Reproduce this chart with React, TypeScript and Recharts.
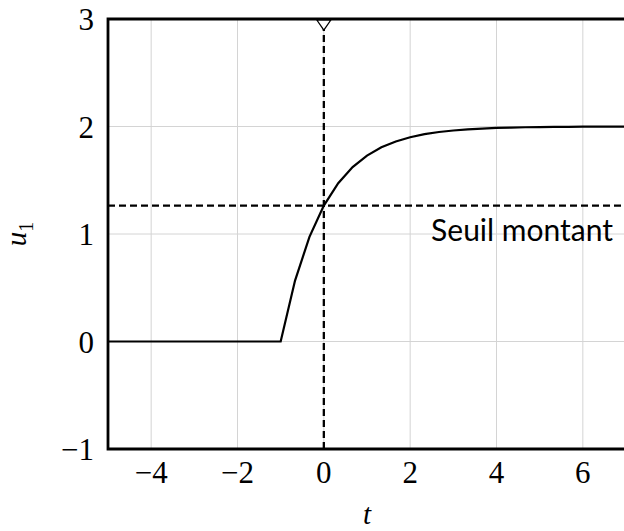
import {
  ComposedChart,
  Line,
  XAxis,
  YAxis,
  CartesianGrid,
  ReferenceLine,
  ReferenceArea,
  ReferenceDot,
} from 'recharts';

// response u1(t): flat at 0, then rises toward 2 from t = -1
const times = [
  -5, -1, -0.667, -0.333, 0, 0.333, 0.667, 1, 1.333, 1.667, 2, 2.333, 2.667, 3,
  3.333, 3.667, 4, 4.333, 4.667, 5, 5.333, 5.667, 6, 6.333, 6.667, 7,
];
const u1 = [
  0, 0, 0.567, 0.973, 1.264, 1.473, 1.622, 1.729, 1.806, 1.861, 1.9, 1.929, 1.949,
  1.963, 1.974, 1.981, 1.987, 1.99, 1.993, 1.995, 1.996, 1.997, 1.998, 1.999, 1.999,
  1.999,
];
const threshold = 1.264;
const thresholdLabel = 'Seuil montant';
const crossingTime = 0;

const xTicks = [-4, -2, 0, 2, 4, 6];
const yTicks = [-1, 0, 1, 2, 3];
const xDomain: [number, number] = [-5, 7];
const yDomain: [number, number] = [-1, 3];

const data = times.map((t, i) => ({ t, u: u1[i] }));

const serif = '"Liberation Serif", "DejaVu Serif", serif';
const fmt = (v: number) => (v < 0 ? `\u2212${Math.abs(v)}` : `${v}`);

const XTick = ({ x, y, payload }: any) => (
  <text x={x} y={y + 34} textAnchor="middle" fontFamily={serif} fontSize={31} fill="#000">
    {fmt(payload.value)}
  </text>
);

const YTick = ({ x, y, payload }: any) => (
  <text x={x - 14} y={y + 11} textAnchor="end" fontFamily={serif} fontSize={31} fill="#000">
    {fmt(payload.value)}
  </text>
);

const DownTriangle = ({ cx, cy }: any) => (
  <polygon
    points={`${cx - 7},${cy + 1} ${cx + 7},${cy + 1} ${cx},${cy + 11}`}
    fill="#fff"
    stroke="#000"
    strokeWidth={1.3}
  />
);

export default function App() {
  return (
    <div
      style={{
        position: 'absolute',
        left: 0,
        top: 0,
        width: 624,
        height: 531,
        overflow: 'hidden',
        background: '#fff',
      }}
    >
      <ComposedChart
        width={640}
        height={531}
        data={data}
        margin={{ top: 19, right: 14, bottom: 42, left: 48 }}
      >
        <CartesianGrid stroke="#d4d4d4" strokeWidth={1} />
        <XAxis
          dataKey="t"
          type="number"
          domain={xDomain}
          ticks={xTicks}
          axisLine={false}
          tickLine={false}
          tickSize={0}
          tickMargin={0}
          height={40}
          tick={<XTick />}
          allowDataOverflow
          label={({ viewBox }: any) => (
            <text
              x={viewBox.x + viewBox.width / 2}
              y={viewBox.y + 75}
              textAnchor="middle"
              fontFamily={serif}
              fontStyle="italic"
              fontSize={29}
              fill="#000"
            >
              t
            </text>
          )}
        />
        <YAxis
          type="number"
          domain={yDomain}
          ticks={yTicks}
          axisLine={false}
          tickLine={false}
          tickSize={0}
          tickMargin={0}
          width={60}
          tick={<YTick />}
          allowDataOverflow
          label={({ viewBox }: any) => (
            <g transform={`translate(${viewBox.x - 22}, ${viewBox.y + viewBox.height / 2}) rotate(-90)`}>
              <text x={0} y={0} textAnchor="middle" fontFamily={serif} fontSize={29} fill="#000">
                <tspan fontStyle="italic">u</tspan>
                <tspan fontSize={20} dy={7}>1</tspan>
              </text>
            </g>
          )}
        />
        <ReferenceLine
          y={threshold}
          stroke="#000"
          strokeWidth={2.3}
          strokeDasharray="7 4"
          label={({ viewBox }: any) => (
            <text
              x={viewBox.x + viewBox.width - 13}
              y={viewBox.y + 35}
              textAnchor="end"
              fontFamily="Lato, sans-serif"
              fontSize={30}
              fill="#000"
            >
              {thresholdLabel}
            </text>
          )}
        />
        <ReferenceLine x={crossingTime} stroke="#000" strokeWidth={2.3} strokeDasharray="7 4" />
        <Line
          dataKey="u"
          type="linear"
          stroke="#000"
          strokeWidth={2.2}
          dot={false}
          isAnimationActive={false}
        />
        <ReferenceArea
          x1={xDomain[0]}
          x2={xDomain[1]}
          y1={yDomain[0]}
          y2={yDomain[1]}
          fill="none"
          fillOpacity={0}
          stroke="#000"
          strokeWidth={2.8}
        />
        <ReferenceDot x={crossingTime} y={yDomain[1]} shape={<DownTriangle />} ifOverflow="visible" />
      </ComposedChart>
    </div>
  );
}
